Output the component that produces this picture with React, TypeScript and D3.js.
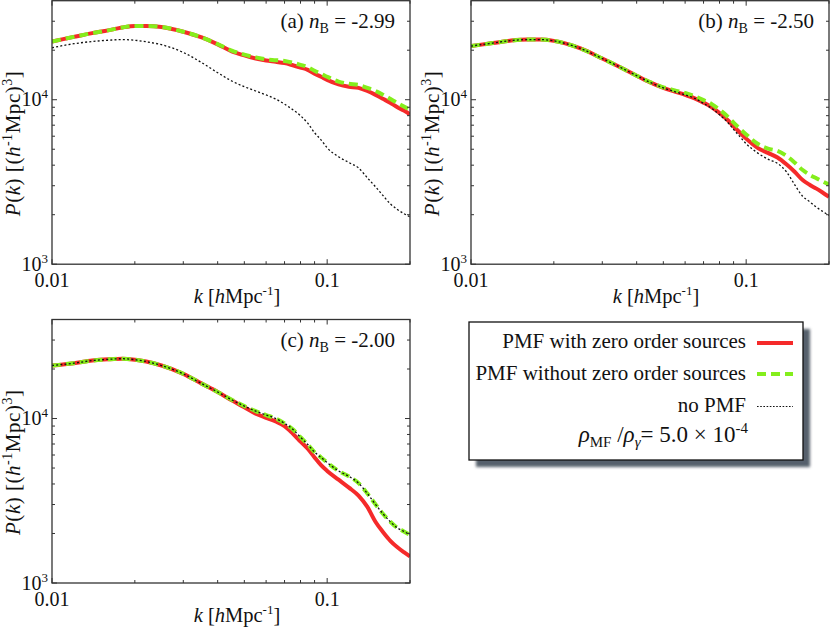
import React from "react";
import * as d3 from "d3";

// ---- data ----
const kValues = [0.01, 0.012, 0.014, 0.016, 0.018, 0.02, 0.022, 0.025, 0.03, 0.035, 0.04, 0.045, 0.05, 0.055, 0.06, 0.065, 0.07, 0.075, 0.08, 0.085, 0.09, 0.095, 0.1, 0.11, 0.12, 0.13, 0.14, 0.15, 0.16, 0.17, 0.18, 0.19, 0.2];

const aWithZero = [22600, 24100, 25400, 26400, 27500, 28100, 28100, 27700, 25900, 23900, 21700, 19700, 18600, 17800, 17300, 17000, 16700, 16200, 15700, 15200, 14400, 13800, 13200, 12400, 12000, 11800, 11300, 10700, 10100, 9550, 9000, 8600, 8150];
const aWithoutZero = [22600, 24100, 25400, 26400, 27500, 28100, 28100, 27700, 25900, 23900, 21800, 19900, 18800, 18100, 17600, 17400, 17200, 16800, 16300, 15800, 15000, 14400, 13800, 12900, 12500, 12300, 11800, 11300, 10700, 10100, 9550, 9100, 8650];
const aNoPMF = [20700, 21900, 22600, 23000, 23200, 23000, 22500, 21600, 19400, 16800, 14600, 13000, 12000, 11300, 10700, 10100, 9400, 8700, 8000, 7200, 6300, 5700, 5100, 4500, 4150, 3850, 3350, 2950, 2600, 2320, 2150, 2030, 1940];

const bWithZero = [21200, 22100, 22900, 23200, 23200, 22800, 22000, 20500, 17800, 15700, 14000, 12700, 11800, 11200, 10700, 10200, 9600, 9000, 8300, 7600, 6900, 6300, 5800, 5100, 4750, 4450, 4050, 3650, 3260, 3040, 2880, 2720, 2570];
const bWithoutZero = [21200, 22100, 22900, 23200, 23200, 22800, 22000, 20500, 17800, 15700, 14000, 12750, 11900, 11400, 11000, 10500, 9950, 9400, 8700, 8000, 7250, 6650, 6150, 5400, 5050, 4880, 4560, 4150, 3750, 3500, 3330, 3180, 3050];
const bNoPMF = [21200, 22100, 22900, 23200, 23200, 22800, 22000, 20500, 17800, 15700, 14000, 12700, 11800, 11200, 10700, 10200, 9500, 8850, 8100, 7400, 6600, 5950, 5400, 4750, 4350, 4100, 3650, 3050, 2600, 2400, 2220, 2090, 1980];

const cWithZero = [21000, 21700, 22500, 22900, 23100, 22800, 22200, 21000, 18700, 16300, 14500, 12900, 11700, 10700, 10100, 9600, 9000, 8100, 7250, 6550, 5800, 5200, 4800, 4250, 3800, 3400, 2900, 2350, 2030, 1800, 1650, 1540, 1450];
const cWithoutZero = [21000, 21700, 22500, 22900, 23100, 22800, 22200, 21000, 18700, 16300, 14500, 13000, 11900, 11100, 10500, 10000, 9350, 8600, 7700, 6950, 6250, 5800, 5400, 4800, 4450, 4050, 3500, 3000, 2620, 2350, 2160, 2060, 1960];
const cNoPMF = [21000, 21700, 22500, 22900, 23100, 22800, 22200, 21000, 18700, 16300, 14500, 13000, 11900, 11100, 10500, 10000, 9350, 8600, 7700, 6950, 6250, 5800, 5400, 4800, 4450, 4050, 3500, 3000, 2620, 2350, 2160, 2060, 1960];

const panelLetters = ["a", "b", "c"];
const panelNB = ["-2.99", "-2.50", "-2.00"];
const xTickLabels = [
  { v: 0.01, t: "0.01" },
  { v: 0.1, t: "0.1" },
];
const yTickExps = [3, 4];
const legendLabels = ["PMF with zero order sources", "PMF without zero order sources", "no PMF"];

const RED = "#f52a2a";
const GREEN = "#84ee1c";
const FONT = "'Liberation Serif', 'Times New Roman', serif";

const panelPos = [
  { x: 52, y: 0.7 },
  { x: 471, y: 0.7 },
  { x: 52, y: 319.5 },
];
const PW = 358;
const PH = 263.5;

type PanelProps = {
  x0: number;
  y0: number;
  letter: string;
  nb: string;
  withZero: number[];
  withoutZero: number[];
  noPMF: number[];
  id: number;
};

function Panel({ x0, y0, letter, nb, withZero, withoutZero, noPMF, id }: PanelProps) {
  const xs = d3.scaleLog().domain([0.01, 0.2]).range([x0, x0 + PW]);
  const ys = d3.scaleLog().domain([1e3, 4e4]).range([y0 + PH, y0]);
  const line = (vals: number[]) =>
    d3
      .line<number>()
      .x((_, i) => xs(kValues[i]))
      .y((d) => ys(d))
      .curve(d3.curveMonotoneX)(vals) || "";

  const xTicks = xs.ticks();
  const yTicks = ys.ticks().filter((t) => t < 4e4 * 0.999);
  const isMajor = (t: number) => Math.abs(Math.log10(t) - Math.round(Math.log10(t))) < 1e-6;
  const axisColor = "#333";
  const clipId = `clip${id}`;

  return (
    <g>
      <defs>
        <clipPath id={clipId}>
          <rect x={x0} y={y0} width={PW} height={PH} />
        </clipPath>
      </defs>
      <g clipPath={`url(#${clipId})`}>
        <path d={line(withZero)} fill="none" stroke={RED} strokeWidth={4} />
        <path d={line(withoutZero)} fill="none" stroke={GREEN} strokeWidth={4} strokeDasharray="9,5" />
        <path d={line(noPMF)} fill="none" stroke="#111" strokeWidth={1.3} strokeDasharray="2,2.2" />
      </g>
      {xTicks.map((t) => {
        const L = isMajor(t) ? 5 : 3;
        const px = xs(t);
        return (
          <g key={"xt" + t}>
            <line x1={px} x2={px} y1={y0 + PH} y2={y0 + PH - L} stroke={axisColor} strokeWidth={1} />
            <line x1={px} x2={px} y1={y0} y2={y0 + L} stroke={axisColor} strokeWidth={1} />
          </g>
        );
      })}
      {yTicks.map((t) => {
        const L = isMajor(t) ? 5 : 3;
        const py = ys(t);
        return (
          <g key={"yt" + t}>
            <line x1={x0} x2={x0 + L} y1={py} y2={py} stroke={axisColor} strokeWidth={1} />
            <line x1={x0 + PW} x2={x0 + PW - L} y1={py} y2={py} stroke={axisColor} strokeWidth={1} />
          </g>
        );
      })}
      <rect x={x0} y={y0} width={PW} height={PH} fill="none" stroke={axisColor} strokeWidth={1.3} />
      {xTickLabels.map((d) => (
        <text key={d.t} x={xs(d.v)} y={y0 + PH + 23} textAnchor="middle" fontSize={20} fontFamily={FONT} fill="#111">
          {d.t}
        </text>
      ))}
      {yTickExps.map((e) => (
        <text key={"ye" + e} x={x0 - 4} y={ys(Math.pow(10, e)) + 6.5} textAnchor="end" fontSize={20} fontFamily={FONT} fill="#111">
          10
          <tspan fontSize={13} dy={-8}>
            {e}
          </tspan>
        </text>
      ))}
      <text x={x0 + 185} y={y0 + PH + 39} textAnchor="middle" fontSize={20.5} fontFamily={FONT} fill="#111">
        <tspan fontStyle="italic">k</tspan> [<tspan fontStyle="italic">h</tspan>Mpc
        <tspan fontSize={13} dy={-8}>-1</tspan>
        <tspan dy={8}>]</tspan>
      </text>
      <text
        transform={`translate(${x0 - 32},${y0 + 143}) rotate(-90)`}
        textAnchor="middle"
        fontSize={21}
        fontFamily={FONT}
        fill="#111"
        textLength={145}
        lengthAdjust="spacing"
      >
        <tspan fontStyle="italic">P</tspan>(<tspan fontStyle="italic">k</tspan>) [(<tspan fontStyle="italic">h</tspan>
        <tspan fontSize={14} dy={-8}>-1</tspan>
        <tspan dy={8}>Mpc)</tspan>
        <tspan fontSize={14} dy={-8}>3</tspan>
        <tspan dy={8}>]</tspan>
      </text>
      <text x={x0 + PW - 15} y={y0 + 27.5} textAnchor="end" fontSize={21} fontFamily={FONT} fill="#111">
        ({letter}) <tspan fontStyle="italic">n</tspan>
        <tspan fontSize={14} dy={5}>B</tspan>
        <tspan dy={-5}> = {nb}</tspan>
      </text>
    </g>
  );
}

function Legend() {
  const bx = 469;
  const by = 322;
  const bw = 334;
  const bh = 138;
  const textX = 746;
  const rows = [348, 380, 411.5];
  const lineX1 = 757;
  const lineX2 = 793;
  return (
    <g>
      <defs>
        <filter id="shadowBlur" x="-10%" y="-10%" width="120%" height="120%">
          <feGaussianBlur stdDeviation="1.5" />
        </filter>
      </defs>
      <rect x={bx + 7} y={by + 7} width={bw} height={bh} fill="#56616c" filter="url(#shadowBlur)" />
      <rect x={bx} y={by} width={bw} height={bh} fill="#fff" stroke="#111" strokeWidth={1.3} />
      {legendLabels.map((l, i) => (
        <text key={l} x={textX} y={rows[i]} textAnchor="end" fontSize={21} fontFamily={FONT} fill="#111">
          {l}
        </text>
      ))}
      <line x1={lineX1} x2={lineX2} y1={rows[0] - 5} y2={rows[0] - 5} stroke={RED} strokeWidth={4} />
      <line x1={lineX1} x2={lineX2} y1={rows[1] - 6} y2={rows[1] - 6} stroke={GREEN} strokeWidth={4} strokeDasharray="9,5" />
      <line x1={lineX1} x2={lineX2} y1={rows[2] - 5} y2={rows[2] - 5} stroke="#111" strokeWidth={1.2} strokeDasharray="1.6,1.6" />
      <text x={748} y={441.5} textAnchor="end" fontSize={23} fontFamily={FONT} fill="#111">
        <tspan fontStyle="italic">ρ</tspan>
        <tspan fontSize={15} dy={5}>MF</tspan>
        <tspan dy={-5}> /</tspan>
        <tspan fontStyle="italic">ρ</tspan>
        <tspan fontSize={15} dy={5} fontStyle="italic">γ</tspan>
        <tspan dy={-5}>= 5.0 × 10</tspan>
        <tspan fontSize={15} dy={-9}>-4</tspan>
      </text>
    </g>
  );
}

export default function App() {
  const series = [
    [aWithZero, aWithoutZero, aNoPMF],
    [bWithZero, bWithoutZero, bNoPMF],
    [cWithZero, cWithoutZero, cNoPMF],
  ];
  return (
    <svg
      width={831}
      height={632}
      viewBox="0 0 831 632"
      style={{ position: "absolute", left: 0, top: 0, background: "#fff" }}
    >
      <rect x={0} y={0} width={831} height={632} fill="#fff" />
      {panelPos.map((p, i) => (
        <Panel
          key={i}
          id={i}
          x0={p.x}
          y0={p.y}
          letter={panelLetters[i]}
          nb={panelNB[i]}
          withZero={series[i][0]}
          withoutZero={series[i][1]}
          noPMF={series[i][2]}
        />
      ))}
      <Legend />
    </svg>
  );
}
